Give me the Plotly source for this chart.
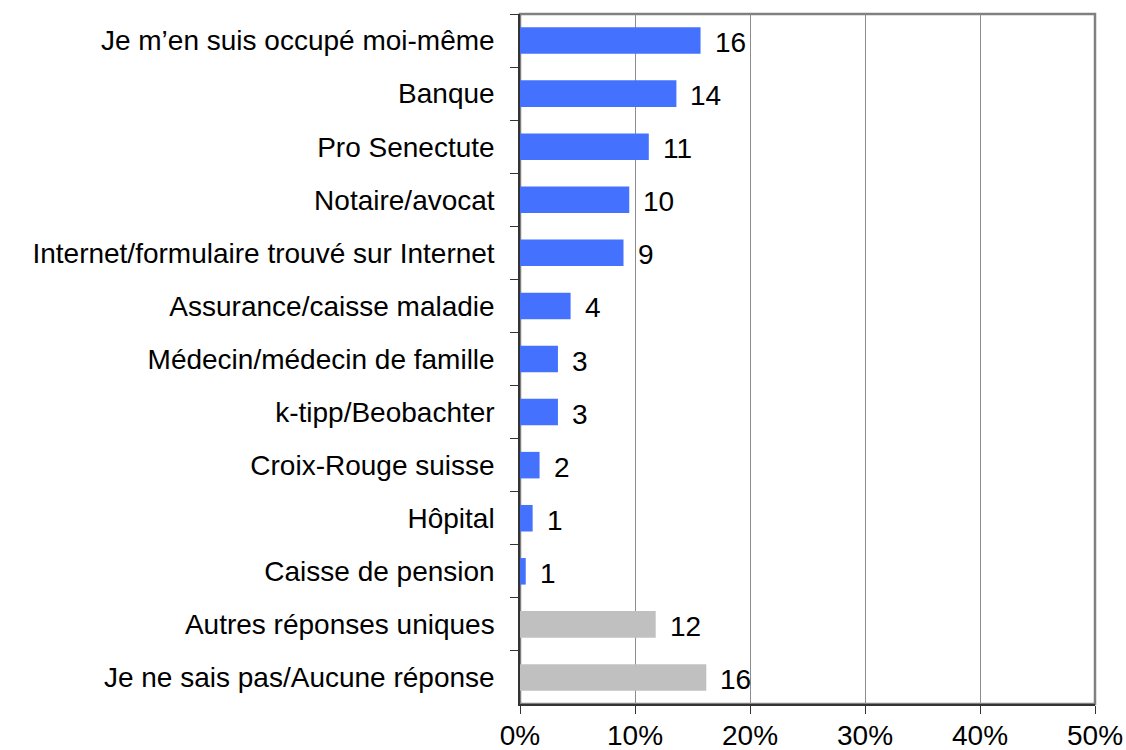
import plotly.graph_objects as go

categories = [
    "Je m’en suis occupé moi-même",
    "Banque",
    "Pro Senectute",
    "Notaire/avocat",
    "Internet/formulaire trouvé sur Internet",
    "Assurance/caisse maladie",
    "Médecin/médecin de famille",
    "k-tipp/Beobachter",
    "Croix-Rouge suisse",
    "Hôpital",
    "Caisse de pension",
    "Autres réponses uniques",
    "Je ne sais pas/Aucune réponse",
]
values = [15.7, 13.6, 11.2, 9.5, 9.0, 4.4, 3.3, 3.3, 1.7, 1.1, 0.5, 11.8, 16.2]
labels = ["16", "14", "11", "10", "9", "4", "3", "3", "2", "1", "1", "12", "16"]
colors = ["#4472FF"] * 11 + ["#C0C0C0"] * 2

FONT = "Liberation Sans, Arial, sans-serif"
FS = 28

fig = go.Figure()
fig.add_trace(go.Bar(
    x=values, y=categories, orientation="h",
    marker=dict(color=colors, line=dict(width=0)),
    width=0.5, hoverinfo="x+y",
))

for c, v, t in zip(categories, values, labels):
    fig.add_annotation(x=v, y=c, text=t, showarrow=False, xanchor="left",
                       xshift=12, yshift=-2, font=dict(family=FONT, size=FS, color="#000"))

fig.add_shape(type="rect", xref="paper", yref="paper", x0=0, y0=0, x1=1, y1=1,
              line=dict(color="#808080", width=2.5), layer="below")

fig.update_layout(
    width=1126, height=750,
    margin=dict(l=520, r=31, t=14, b=46, autoexpand=False),
    paper_bgcolor="white", plot_bgcolor="white",
    showlegend=False,
    font=dict(family=FONT, size=FS, color="#000"),
    xaxis=dict(range=[0, 50], dtick=10, ticksuffix="%", showgrid=True,
               gridcolor="#8C8C8C", gridwidth=1, zeroline=False,
               showline=True, linecolor="#333", linewidth=1.5,
               ticks="outside", ticklen=8, tickcolor="#333", automargin=False,
               ticklabelstandoff=-2,
               tickfont=dict(family=FONT, size=FS)),
    yaxis=dict(categoryorder="array", categoryarray=categories, autorange="reversed",
               showgrid=False, showline=True, linecolor="#333", linewidth=1.5,
               ticks="outside", ticklen=8, tickcolor="#333", tickson="boundaries",
               ticklabelstandoff=18, automargin=False,
               tickfont=dict(family=FONT, size=FS)),
)

fig.write_html("out.html", config={"displayModeBar": False},
               post_script="document.body.style.margin='0';document.body.style.overflow='hidden';")
